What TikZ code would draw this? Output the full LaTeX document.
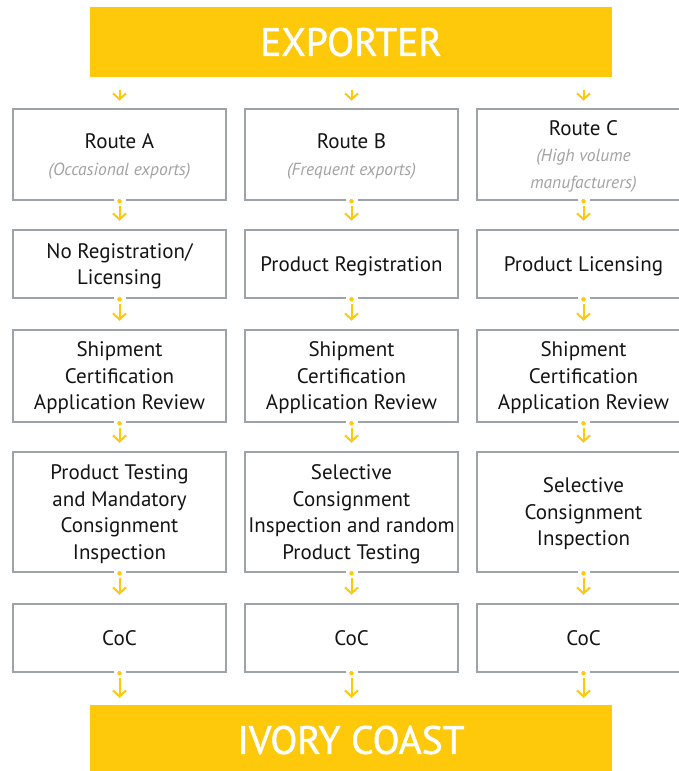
\documentclass[tikz,border=0pt]{standalone}
\usepackage{fontspec}
\setmainfont{PT Sans}
\newfontfamily\bannerfont[FakeBold=1.2]{PT Sans}
\usetikzlibrary{arrows.meta}
\definecolor{ylw}{HTML}{FDC90A}
\definecolor{bgray}{HTML}{9CA4A9}
\definecolor{igray}{HTML}{A2A2A2}
\newcommand{\subtxt}[1]{{\fontsize{17.5}{24}\selectfont\itshape\color{igray}#1}}
\begin{document}
\begin{tikzpicture}[x=1pt,y=-1pt,
  box/.style={draw=bgray, line width=2.5pt, minimum width=213pt, align=center,
    font=\fontsize{21}{26.5}\selectfont, text=black!92, inner sep=0pt, text depth=0pt},
  banner/.style={fill=ylw, minimum width=522pt, minimum height=70pt, text=white,
    font=\bannerfont\fontsize{39.5}{40}\selectfont, inner sep=0pt},
  arr/.style={draw=ylw, line width=2pt, -{Straight Barb[length=6pt,width=13pt,line width=2pt]}},
  gapbox/.style={fill=white, minimum width=12pt, minimum height=5pt, inner sep=0pt},
  ydot/.style={circle, fill=ylw, minimum size=4.5pt, inner sep=0pt}]
\useasboundingbox (0,0) rectangle (679,771);
\clip (0,0) rectangle (679,771);
\node[banner] (exp) at (351,42) {EXPORTER};
\node[banner] (ivc) at (351,740) {IVORY COAST};
% row 1
\node[box, minimum height=91pt] (a1) at (119.5,154.5) {Route A\\\subtxt{(Occasional exports)}};
\node[box, minimum height=91pt] (b1) at (351.5,154.5) {Route B\\\subtxt{(Frequent exports)}};
\node[box, minimum height=91pt] (c1) at (583.5,154.5) {Route C\\\subtxt{(High volume}\\\subtxt{manufacturers)}};
% row 2
\node[box, minimum height=68pt] (a2) at (119.5,264) {No Registration/\\Licensing};
\node[box, minimum height=68pt] (b2) at (351.5,264) {Product Registration};
\node[box, minimum height=68pt] (c2) at (583.5,264) {Product Licensing};
% row 3
\node[box, minimum height=92pt] (a3) at (119.5,376) {Shipment\\Certification\\Application Review};
\node[box, minimum height=92pt] (b3) at (351.5,376) {Shipment\\Certification\\Application Review};
\node[box, minimum height=92pt] (c3) at (583.5,376) {Shipment\\Certification\\Application Review};
% row 4
\node[box, minimum height=120pt] (a4) at (119.5,512) {Product Testing\\and Mandatory\\Consignment\\Inspection};
\node[box, minimum height=120pt] (b4) at (351.5,512) {Selective\\Consignment\\Inspection and random\\Product Testing};
\node[box, minimum height=120pt] (c4) at (583.5,512) {Selective\\Consignment\\Inspection};
% row 5
\node[box, minimum height=68pt] (a5) at (119.5,638) {CoC};
\node[box, minimum height=68pt] (b5) at (351.5,638) {CoC};
\node[box, minimum height=68pt] (c5) at (583.5,638) {CoC};
% connectors
\foreach \c in {a,b,c}{
  \draw[arr] ([yshift=-13pt]\c1.north |- exp.south) -- ([yshift=7pt]\c1.north);
  \foreach \r/\n in {1/2,2/3,3/4,4/5}{
    \node[gapbox] at (\c\r.south) {};
    \node[ydot] at (\c\r.south) {};
    \draw[arr] ([yshift=-5pt]\c\r.south) -- ([yshift=8pt]\c\n.north);
  }
  \node[gapbox] at (\c5.south) {};
  \node[ydot] at (\c5.south) {};
  \draw[arr] ([yshift=-5pt]\c5.south) -- ([yshift=7pt]\c5.south |- ivc.north);
}
\end{tikzpicture}
\end{document}
